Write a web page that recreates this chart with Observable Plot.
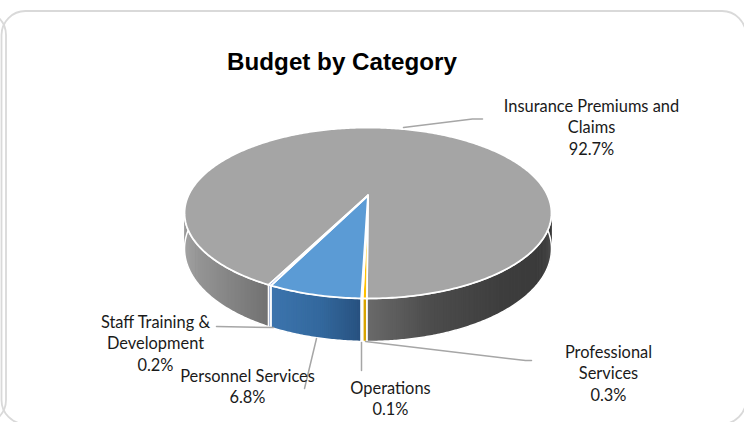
<!DOCTYPE html>
<html>
<head>
<meta charset="utf-8">
<style>
html,body{margin:0;padding:0;background:#fff;overflow:hidden}
</style>
<script src="https://cdn.jsdelivr.net/npm/d3@7"></script>
<script src="https://cdn.jsdelivr.net/npm/@observablehq/plot@0.6"></script>
</head>
<body>
<div id="chart"></div>
<script>
// Values, clockwise from the start of the largest slice
const categories = ["Insurance Premiums and Claims", "Professional Services", "Operations", "Personnel Services", "Staff Training & Development"];
const shares = [92.7, 0.3, 0.1, 6.8, 0.2];
const labelLines = [["Insurance Premiums and", "Claims"], ["Professional", "Services"], ["Operations"], ["Personnel Services"], ["Staff Training &", "Development"]];
const topColors = ["#a5a5a5", "#ffc000", "#ed7d31", "#5b9bd5", "#4472c4"];
const title = "Budget by Category";

// Perspective view of the disc
const view = {cx: 367.5, cy: 195, R: 179.6, S: 81.9, k: 0.2047, depth: 34.2, start: -153.1};
const total = d3.sum(shares);
const project = (deg, drop = 0) => {
  const t = deg * Math.PI / 180, u = Math.sin(t), v = -Math.cos(t), w = 1 - view.k * v;
  return {x: view.cx + view.R * u / w, y: view.cy + (view.S * v + drop) / w, v};
};

let running = view.start;
const slices = shares.map((s, i) => {
  const a0 = running, a1 = running + s / total * 360;
  running = a1;
  return {i, a0, a1};
});

const angles = (a0, a1, step) => {
  const n = Math.max(2, Math.ceil((a1 - a0) / step));
  return d3.range(n + 1).map(j => a0 + (a1 - a0) * j / n);
};

// Wall shading runs with horizontal position
const shadeGrey = d3.scaleLinear().domain([187, 230, 272, 365, 430, 500, 550]).range(["#9a9a9a", "#848484", "#6f6f6f", "#6a6a6a", "#4c4c4c", "#3e3e3e", "#3a3a3a"]);
const shadeBlue = d3.scaleLinear().domain([272, 320, 361]).range(["#3c74ad", "#33689d", "#27507e"]);
const wallColor = (i, x) => i === 0 ? shadeGrey(x) : i === 1 ? "#d9a400" : i === 2 ? "#b9622a" : i === 3 ? shadeBlue(x) : "#3d5f9e";

const wallStrips = [], wallOutlines = [], topPolys = [];
for (const s of slices) {
  const list = angles(s.a0, s.a1, 0.5).filter(a => project(a).v > -0.22);
  let run = [];
  const runs = [];
  list.forEach((a, j) => {
    if (j > 0 && a - list[j - 1] > 1) { runs.push(run); run = []; }
    run.push(a);
    if (j > 0 && a - list[j - 1] <= 1) {
      // each strip overlaps the next so that no seam shows
      const next = (j + 1 < list.length && list[j + 1] - a <= 1) ? list[j + 1] : a;
      const p0 = project(list[j - 1]), p1 = project(next), p2 = project(next, view.depth), p3 = project(list[j - 1], view.depth);
      const color = wallColor(s.i, (p0.x + p1.x) / 2), id = `${s.i}-${j}`;
      for (const p of [p0, p1, p2, p3, p0]) wallStrips.push({...p, id, color});
    }
  });
  if (run.length) runs.push(run);
  runs.forEach((r, q) => {
    const id = `${s.i}-${q}`;
    const ring = [...r.map(a => project(a)), ...r.slice().reverse().map(a => project(a, view.depth))];
    for (const p of [...ring, ring[0]]) wallOutlines.push({...p, id});
  });
  const ringTop = [{x: view.cx, y: view.cy}, ...angles(s.a0, s.a1, 0.8).map(a => project(a)), {x: view.cx, y: view.cy}];
  for (const p of ringTop) topPolys.push({...p, id: s.i, color: topColors[s.i]});
}

// Callouts: where each label sits and the bends of its leader
const labelAt = [[591, 106], [608, 352], [390, 388], [247, 376], [155, 322]];
const leaders = [
  [[403, 127], [472, 118.5], [482, 118.5]],
  [[365, 341], [525, 360], [531, 360]],
  [[361, 342], [361, 370]],
  [[316, 338], [304, 388]],
  [[273, 327], [216, 326]]
];
const lineStep = 21.6;
const labelRows = [];
categories.forEach((c, i) => {
  const rows = [...labelLines[i], shares[i].toFixed(1) + "%"];
  rows.forEach((text, r) => labelRows.push({text, x: labelAt[i][0], y: labelAt[i][1] + r * lineStep}));
});
const leaderPts = leaders.flatMap((l, i) => l.map(([x, y]) => ({x, y, id: i})));

const plot = Plot.plot({
  width: 744,
  height: 422,
  margin: 0,
  x: {domain: [0, 744], range: [0, 744], axis: null},
  y: {domain: [0, 422], range: [0, 422], axis: null},
  color: {type: "identity"},
  style: {background: "#fff"},
  marks: [
    Plot.rect([{}], {x1: 1.5, x2: 746, y1: 11, y2: 424, rx: 24, stroke: "#d9d9d9", strokeWidth: 1.8, fill: "none"}),
    Plot.rect([{}], {x1: -200, x2: 6, y1: 11, y2: 424, rx: 24, stroke: "#d9d9d9", strokeWidth: 1.8, fill: "none"}),
    Plot.line(wallStrips, {x: "x", y: "y", z: "id", fill: "color", stroke: "none", curve: "linear"}),
    Plot.line(wallOutlines, {x: "x", y: "y", z: "id", stroke: "#fff", strokeWidth: 1.5, fill: "none", curve: "linear"}),
    Plot.line(topPolys, {x: "x", y: "y", z: "id", fill: "color", stroke: "#fff", strokeWidth: 1.8, strokeLinejoin: "round", curve: "linear"}),
    Plot.line(leaderPts, {x: "x", y: "y", z: "id", stroke: "#a6a6a6", strokeWidth: 1.5, curve: "linear"}),
    Plot.text(labelRows, {x: "x", y: "y", text: "text", fontFamily: "Lato", fontSize: 16.4, fill: "#1a1a1a", textAnchor: "middle", lineAnchor: "middle"}),
    Plot.text([title], {x: () => 341.5, y: () => 62, text: d => d, fontFamily: "Liberation Sans", fontWeight: "bold", fontSize: 24.2, fill: "#000", textAnchor: "middle", lineAnchor: "middle"})
  ]
});
document.getElementById("chart").appendChild(plot);
</script>
</body>
</html>
